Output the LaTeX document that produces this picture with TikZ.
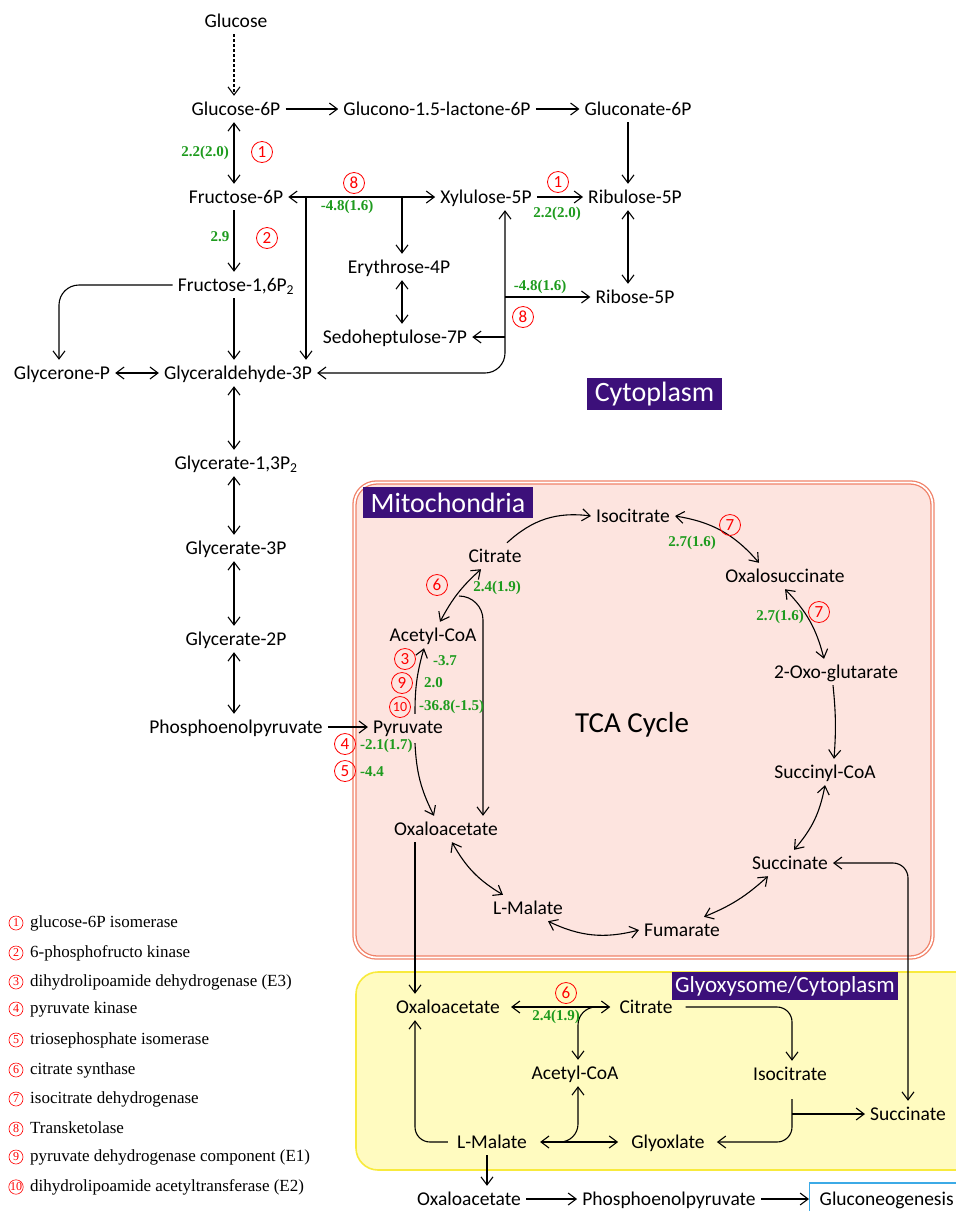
\documentclass[tikz,border=0pt]{standalone}
\usepackage{fontspec}
\setmainfont{Carlito}
\newfontfamily\tnr{Liberation Serif}
\usetikzlibrary{arrows.meta}
\definecolor{dgreen}{RGB}{30,155,30}
\definecolor{labpurple}{RGB}{60,16,122}
\definecolor{mitofill}{RGB}{253,228,223}
\definecolor{mitoline}{RGB}{240,130,105}
\definecolor{glyfill}{RGB}{255,251,192}
\definecolor{glyline}{RGB}{248,234,60}
\definecolor{gngline}{RGB}{60,170,230}
\tikzset{met/.style={inner xsep=5pt, inner ysep=7pt, text height=12pt, text depth=0pt, font=\fontsize{19.5}{22}\selectfont},
  enz/.style={circle, draw=red, text=red, line width=0.8pt, minimum size=21pt, inner sep=0pt, font=\fontsize{17}{17}\selectfont},
  dg/.style={text=dgreen, inner sep=0pt, font=\tnr\bfseries\fontsize{15}{15}\selectfont},
  region/.style={fill=labpurple, text=white, inner sep=0pt},
  rxn/.style={-{Straight Barb[length=8pt,width=12pt]}, line width=1.1pt},
  rev/.style={{Straight Barb[length=8pt,width=12pt]}-{Straight Barb[length=8pt,width=12pt]}, line width=1.1pt},
  lnum/.style={circle, draw=red, text=red, line width=0.6pt, minimum size=14pt, inner sep=0pt, font=\tnr\fontsize{12}{12}\selectfont},
  ltext/.style={anchor=west, inner sep=0pt, text height=12pt, text depth=4pt, font=\tnr\fontsize{17}{17}\selectfont}}

\begin{document}
\begin{tikzpicture}[x=1pt, y=1pt]
  \useasboundingbox (0,0) rectangle (956,-1211);
  \clip (0,0) rectangle (956,-1211);
  %Compartments
  \draw[draw=mitoline, double=white, double distance=1.8pt, line width=1.3pt, fill=mitofill, rounded corners=22pt] (354.5,-482.5) rectangle (932.5,-957.5);
  \draw[draw=glyline, line width=1.6pt, fill=glyfill, rounded corners=22pt] (356,-972) rectangle (980,-1170);
  \node[region, minimum width=135pt, minimum height=32pt, font=\fontsize{28}{28}\selectfont] (cyto) at (654.5,-394) {Cytoplasm};
  \node[region, minimum width=170pt, minimum height=31pt, font=\fontsize{28}{28}\selectfont] (mito) at (448,-502.5) {Mitochondria};
  \node[region, minimum width=226pt, minimum height=28pt, font=\fontsize{23}{23}\selectfont] (glyo) at (785,-986) {Glyoxysome/Cytoplasm};

  %Glycolysis
  \node[met] (glc) at (236,-21) {Glucose};
  \node[met] (g6p) at (236,-109) {Glucose-6P};
  \node[met] (f6p) at (236,-197) {Fructose-6P};
  \node[met] (f16) at (236,-285) {Fructose-1,6P\textsubscript{2}};
  \node[met] (dhap) at (62,-373) {Glycerone-P};
  \node[met] (g3p) at (238,-373) {Glyceraldehyde-3P};
  \node[met] (bpg) at (236,-463) {Glycerate-1,3P\textsubscript{2}};
  \node[met] (pg3) at (236,-548) {Glycerate-3P};
  \node[met] (pg2) at (236,-639) {Glycerate-2P};
  \node[met] (pep) at (236,-727) {Phosphoenolpyruvate};
  \node[met] (pyr) at (408,-727) {Pyruvate};
  \draw[rxn, dash pattern=on 3pt off 2pt] ([xshift=-2pt]glc.south) -- ([xshift=-2pt]g6p.north);
  \draw[rev] ([xshift=-2pt]g6p.south) -- ([xshift=-2pt]f6p.north);
  \draw[rxn] ([xshift=-2pt]f6p.south) -- ([xshift=-2pt]f16.north);
  \draw[rxn] ([xshift=-2pt]f16.south) -- ([xshift=-4pt]g3p.north);
  \draw[rxn, rounded corners=20pt] (f16.west) -| ([xshift=-3pt]dhap.north);
  \draw[rev] (dhap.east) -- (g3p.west);
  \draw[rev] ([xshift=-4pt]g3p.south) -- ([xshift=-2pt]bpg.north);
  \draw[rev] ([xshift=-2pt]bpg.south) -- ([xshift=-2pt]pg3.north);
  \draw[rev] ([xshift=-2pt]pg3.south) -- ([xshift=-2pt]pg2.north);
  \draw[rev] ([xshift=-2pt]pg2.south) -- ([xshift=-2pt]pep.north);
  \draw[rxn] (pep.east) -- (pyr.west);

  %Pentose phosphate
  \node[met] (gl15) at (437,-109) {Glucono-1.5-lactone-6P};
  \node[met] (glcn) at (638,-109) {Gluconate-6P};
  \node[met] (xyl) at (486,-197) {Xylulose-5P};
  \node[met] (ru5p) at (635,-197) {Ribulose-5P};
  \node[met] (e4p) at (399,-267) {Erythrose-4P};
  \node[met] (r5p) at (635,-297) {Ribose-5P};
  \node[met] (s7p) at (395,-337) {Sedoheptulose-7P};
  \coordinate (t1) at (306,-197);
  \coordinate (t2) at (402,-197);
  \coordinate (t3) at (505,-297);
  \draw[rxn] (g6p.east) -- (gl15.west);
  \draw[rxn] (gl15.east) -- (glcn.west);
  \draw[rxn] ([xshift=-10pt]glcn.south) -- ([xshift=-7pt]ru5p.north);
  \draw[rxn] (xyl.east) -- (ru5p.west);
  \draw[rev] ([xshift=-7pt]ru5p.south) -- ([xshift=-7pt]r5p.north);
  \draw[rev] (f6p.east) -- (xyl.west);
  \draw[rxn] (t1) -- (t1 |- g3p.north);
  \draw[rxn] (t2) -- (t2 |- e4p.north);
  \draw[rev] ([xshift=3pt]e4p.south) -- ([xshift=7pt]s7p.north);
  \draw[rev, rounded corners=20pt] (xyl.south -| t3) -- (t3 |- g3p) -- (g3p.east);
  \draw[rxn] (t3) -- (r5p.west);
  \draw[rxn] (t3 |- s7p) -- (s7p.east);

  %TCA cycle
  \node[met] (iso) at (633,-516) {Isocitrate};
  \node[met] (cit) at (495,-556) {Citrate};
  \node[met] (osu) at (785,-576) {Oxalosuccinate};
  \node[met] (aca) at (433,-635) {Acetyl-CoA};
  \node[met] (oxg) at (836,-672) {2-Oxo-glutarate};
  \node[font=\fontsize{29}{29}\selectfont] (tca) at (632,-725) {TCA Cycle};
  \node[met] (scoa) at (825,-772) {Succinyl-CoA};
  \node[met] (oaa) at (446,-829) {Oxaloacetate};
  \node[met] (suc) at (790,-863) {Succinate};
  \node[met] (mal) at (528,-908) {L-Malate};
  \node[met] (fum) at (682,-930) {Fumarate};
  \coordinate (t4) at (459,-596);
  \draw[rxn] ([xshift=12pt]cit.north) to[bend left=25] (iso.west);
  \draw[rev] (iso.east) to[bend left=20] ([xshift=-26pt]osu.north);
  \draw[rev] (osu.south) to[bend left=15] ([xshift=-12pt]oxg.north);
  \draw[rxn] ([xshift=-3pt]oxg.south) to[bend left=5] ([xshift=9pt]scoa.north);
  \draw[rev] (scoa.south) to[bend left=15] ([xshift=4pt]suc.north);
  \draw[rev] ([xshift=-22pt]suc.south) to[bend left=10] ([xshift=22pt]fum.north);
  \draw[rev] (fum.west) to[bend left=20] ([xshift=20pt]mal.south);
  \draw[rev] ([xshift=-25pt]mal.north) to[bend left=15] ([xshift=6pt]oaa.south);
  \draw[rev] ([xshift=-14pt]cit.south) to[bend right=10] ([xshift=7pt]aca.north);
  \draw[rxn] (t4) to[out=0, in=90] ++(24,-24) -- ([xshift=37pt]oaa.north);
  \draw[rxn] ([xshift=7pt]pyr.north) to[bend left=8] ([xshift=-9pt]aca.south);
  \draw[rxn] ([xshift=7pt,yshift=-3pt]pyr.south) to[bend right=12] ([xshift=-12pt]oaa.north);

  %Glyoxylate cycle
  \node[met] (oaa2) at (448,-1007) {Oxaloacetate};
  \node[met] (cit2) at (646,-1007) {Citrate};
  \node[met] (aca2) at (575,-1073) {Acetyl-CoA};
  \node[met] (iso2) at (790,-1074) {Isocitrate};
  \node[met] (suc2) at (908,-1114) {Succinate};
  \node[met] (gxl) at (668,-1142) {Glyoxlate};
  \node[met] (mal2) at (492,-1142) {L-Malate};
  \node[met] (oaa3) at (469,-1199) {Oxaloacetate};
  \node[met] (pep2) at (669,-1199) {Phosphoenolpyruvate};
  \node[met, draw=gngline, line width=1.4pt, inner xsep=10pt, minimum height=32pt, anchor=west] (gng) at (809,-1199) {Gluconeogenesis};
  \coordinate (t5) at (600,-1007);
  \coordinate (t7) at (562,-1142);
  \draw[rxn] ([xshift=-31pt]oaa.south) -- ([xshift=-33pt]oaa2.north);
  \draw[rev, rounded corners=15pt] (suc.east) -| (suc2.north);
  \draw[rev, shorten <=6pt, shorten >=4pt] (oaa2.east) -- (cit2.west);
  \draw[rxn, rounded corners=18pt] (t5) -| ([xshift=3pt]aca2.north);
  \draw[rxn, rounded corners=15pt] ([xshift=8pt]cit2.east) -| ([xshift=2pt]iso2.north);
  \draw[rxn, rounded corners=15pt] ([xshift=2pt,yshift=-12pt]iso2.south) |- ([xshift=7pt]gxl.east);
  \draw[rxn] ([xshift=2pt]iso2.south |- suc2) -- (suc2.west);
  \draw[rev] ([xshift=8pt]mal2.east) -- ([xshift=-8pt]gxl.west);
  \draw[rxn, rounded corners=18pt] (t7) -| ([xshift=3pt]aca2.south);
  \draw[rxn, rounded corners=15pt] ([xshift=-4pt]mal2.west) -| ([xshift=-33pt]oaa2.south);
  \draw[rxn] ([xshift=-5pt]mal2.south) -- ([xshift=-5pt]mal2.south |- oaa3.north);
  \draw[rxn] (oaa3.east) -- (pep2.west);
  \draw[rxn] (pep2.east) -- (gng.west);

  %Enzymes and values
  \node[enz] (n1a) at (262,-152) {1};
  \node[dg] (v1a) at (205,-153) {2.2(2.0)};
  \node[enz] (n2) at (267,-238) {2};
  \node[dg] (v2) at (220,-237) {2.9};
  \node[enz] (n8a) at (354,-183) {8};
  \node[dg] (v8a) at (347,-207) {-4.8(1.6)};
  \node[enz] (n1b) at (558,-182) {1};
  \node[dg] (v1b) at (557,-214) {2.2(2.0)};
  \node[enz] (n8b) at (523,-317) {8};
  \node[dg] (v8b) at (540,-287) {-4.8(1.6)};
  \node[enz] (n7a) at (730,-525) {7};
  \node[dg] (v7a) at (692,-543) {2.7(1.6)};
  \node[enz] (n7b) at (819,-612) {7};
  \node[dg] (v7b) at (780,-617) {2.7(1.6)};
  \node[enz] (n6a) at (437,-585) {6};
  \node[dg] (v6a) at (497,-588) {2.4(1.9)};
  \node[enz] (n3) at (405,-659) {3};
  \node[dg, anchor=west] (v3) at (433,-661) {-3.7};
  \node[enz] (n9) at (402,-683) {9};
  \node[dg, anchor=west] (v9) at (424,-683) {2.0};
  \node[enz, font=\fontsize{14}{14}\selectfont] (n10) at (400,-707) {10};
  \node[dg, anchor=west] (v10) at (419,-707) {-36.8(-1.5)};
  \node[enz] (n4) at (345,-744) {4};
  \node[dg, anchor=west] (v4) at (360,-746) {-2.1(1.7)};
  \node[enz] (n5) at (345,-771) {5};
  \node[dg, anchor=west] (v5) at (360,-772) {-4.4};
  \node[enz] (n6b) at (566,-993) {6};
  \node[dg] (v6b) at (556,-1017) {2.4(1.9)};

  %Legend
  \foreach \n/\y/\t in {1/923/glucose-6P isomerase, 2/953/6-phosphofructo kinase,
      3/982/dihydrolipoamide dehydrogenase (E3), 4/1009/pyruvate kinase,
      5/1040/triosephosphate isomerase, 6/1070/citrate synthase,
      7/1099/isocitrate dehydrogenase, 8/1129/Transketolase,
      9/1157/pyruvate dehydrogenase component (E1), 10/1187/dihydrolipoamide acetyltransferase (E2)}
  {
    \node[lnum] (k\n) at (16,-\y) {\n};
    \node[ltext] (d\n) at (30,-\y) {\t};
  }
\end{tikzpicture}
\end{document}
